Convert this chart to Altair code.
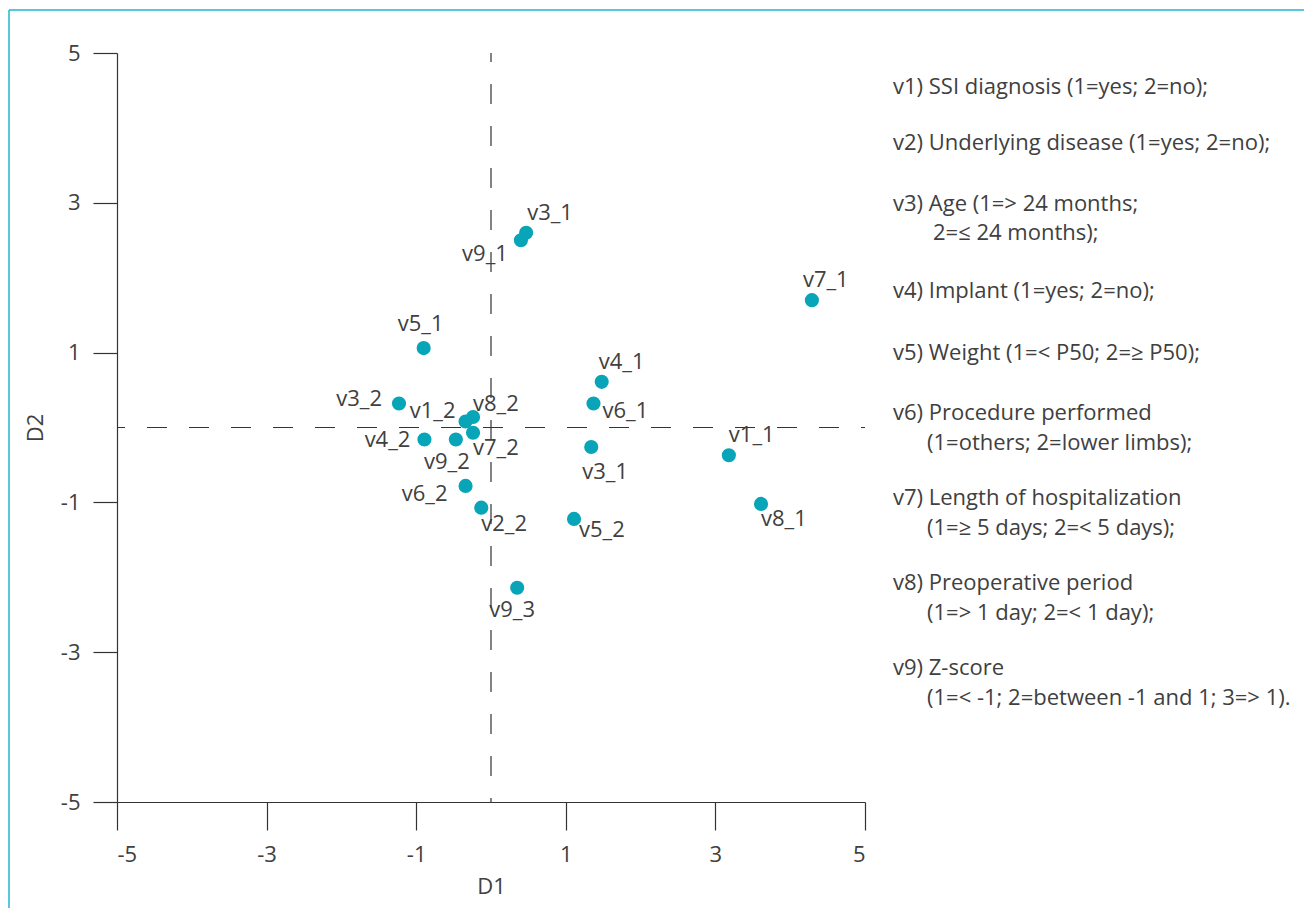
import altair as alt
import pandas as pd

# ---- data ----
labels = ["v3_1", "v9_1", "v3_2", "v1_2", "v8_2", "v7_2", "v4_2", "v9_2", "v6_2", "v2_2",
          "v4_1", "v6_1", "v3_1", "v5_2", "v7_1", "v1_1", "v8_1", "v5_1", "v9_3"]
d1 = [0.47, 0.40, -1.23, -0.34, -0.24, -0.24, -0.89, -0.47, -0.34, -0.13,
      1.48, 1.37, 1.34, 1.11, 4.29, 3.18, 3.61, -0.90, 0.35]
d2 = [2.60, 2.50, 0.32, 0.08, 0.14, -0.07, -0.16, -0.16, -0.78, -1.07,
      0.61, 0.32, -0.26, -1.22, 1.70, -0.37, -1.02, 1.06, -2.14]

tick_values = [-5, -3, -1, 1, 3, 5]

legend_lines = [
    "v1) SSI diagnosis (1=yes; 2=no);",
    "v2) Underlying disease (1=yes; 2=no);",
    "v3) Age (1=> 24 months;",
    "2=\u2264 24 months);",
    "v4) Implant (1=yes; 2=no);",
    "v5) Weight (1=< P50; 2=\u2265 P50);",
    "v6) Procedure performed",
    "(1=others; 2=lower limbs);",
    "v7) Length of hospitalization",
    "(1=\u2265 5 days; 2=< 5 days);",
    "v8) Preoperative period",
    "(1=> 1 day; 2=< 1 day);",
    "v9) Z-score",
    "(1=< -1; 2=between -1 and 1; 3=> 1).",
]

# ---- layout / style (kept apart from data) ----
W, H = 748, 749
FONT = "Open Sans"
FS = 22
FW = 400
TXT = "#404040"
AX = "#333333"
TEAL = "#07a5b7"

# label placement per point: (align, dx, dy)
label_place = [("left", 1, -20), ("right", -13, 14), ("right", -17, -5), ("right", -10, -11),
               ("left", 0, -13), ("left", 0, 15), ("right", -14, 1), ("center", -9, 23),
               ("right", -18, 8), ("left", 0, 16), ("left", -3, -20), ("left", 9, 7),
               ("left", -9, 25), ("left", 5, 11), ("left", -9, -20), ("left", 0, -20),
               ("left", 0, 15), ("center", -3, -24), ("center", -5, 22)]

# legend line positions relative to plot origin (x, y)
legend_pos = [(776, 34), (776, 90), (776, 151), (816, 180), (776, 238), (776, 300),
              (776, 360), (810, 390), (776, 445), (810, 475), (776, 530), (810, 560),
              (776, 615), (810, 645)]

df = pd.DataFrame({"id": list(range(len(labels))), "label": labels, "D1": d1, "D2": d2})

xscale = alt.Scale(domain=[-5, 5], nice=False, zero=False)
yscale = alt.Scale(domain=[-5, 5], nice=False, zero=False)

xaxis = alt.Axis(values=tick_values, grid=False, tickSize=28, tickColor=AX, domainColor=AX,
                 tickWidth=1.2, domainWidth=1.2, labelFont=FONT, labelFontSize=FS,
                 labelColor=TXT, labelPadding=14, labelFontWeight=FW, title="D1",
                 labelExpr="'' + datum.value",
                 titleFont=FONT, titleFontSize=FS, titleFontWeight=FW, titleColor=TXT,
                 titleY=84, titleBaseline="middle")
yaxis = alt.Axis(values=tick_values, grid=False, tickSize=24, tickColor=AX, domainColor=AX,
                 tickWidth=1.2, domainWidth=1.2, labelFont=FONT, labelFontSize=FS,
                 labelColor=TXT, labelPadding=13, labelFontWeight=FW, title="D2",
                 labelExpr="'' + datum.value",
                 titleFont=FONT, titleFontSize=FS, titleFontWeight=FW, titleColor=TXT,
                 titleX=-82, titleBaseline="middle")

base = alt.Chart(df)

points = base.mark_circle(size=200, color=TEAL, opacity=1).encode(
    x=alt.X("D1:Q", scale=xscale, axis=xaxis),
    y=alt.Y("D2:Q", scale=yscale, axis=yaxis),
)

vline = alt.Chart(pd.DataFrame({"v": [0]})).mark_rule(
    color=AX, strokeWidth=1.2, strokeDash=[20, 22], strokeDashOffset=11
).encode(x=alt.X("v:Q", scale=xscale), y=alt.value(0), y2=alt.value(H))

hline = alt.Chart(pd.DataFrame({"v": [0]})).mark_rule(
    color=AX, strokeWidth=1.2, strokeDash=[20, 22], strokeDashOffset=12
).encode(y=alt.Y("v:Q", scale=yscale), x=alt.value(0), x2=alt.value(W))

layers = [vline, hline, points]

for i, (al, dx, dy) in enumerate(label_place):
    layers.append(
        base.transform_filter(alt.datum.id == i).mark_text(
            align=al, baseline="middle", dx=dx, dy=dy, font=FONT, fontSize=FS,
            fontWeight=FW, color=TXT
        ).encode(x=alt.X("D1:Q", scale=xscale), y=alt.Y("D2:Q", scale=yscale),
                 text="label:N")
    )

for line, (lx, ly) in zip(legend_lines, legend_pos):
    layers.append(
        alt.Chart(pd.DataFrame({"t": [line]})).mark_text(
            align="left", baseline="middle", font=FONT, fontSize=FS, fontWeight=FW,
            color=TXT
        ).encode(x=alt.value(lx), y=alt.value(ly), text="t:N")
    )

# frame lines (top and left) like the reference figure border
FRAME = "#22b6d2"
layers.append(alt.Chart(pd.DataFrame({"a": [0]})).mark_rule(color=FRAME, strokeWidth=1.5).encode(
    x=alt.value(-108), x2=alt.value(W + 440), y=alt.value(-43)))
layers.append(alt.Chart(pd.DataFrame({"a": [0]})).mark_rule(color=FRAME, strokeWidth=1.5).encode(
    x=alt.value(-108), y=alt.value(-43), y2=alt.value(H + 110)))

chart = alt.layer(*layers).properties(
    width=W, height=H,
    padding={"left": 109, "top": 45, "right": 1296 - 109 - W, "bottom": 900 - 45 - H},
    autosize=alt.AutoSizeParams(type="none"),
    background="white",
).configure_view(stroke=None)

chart.save("out.html", embed_options={"renderer": "svg", "actions": False})
